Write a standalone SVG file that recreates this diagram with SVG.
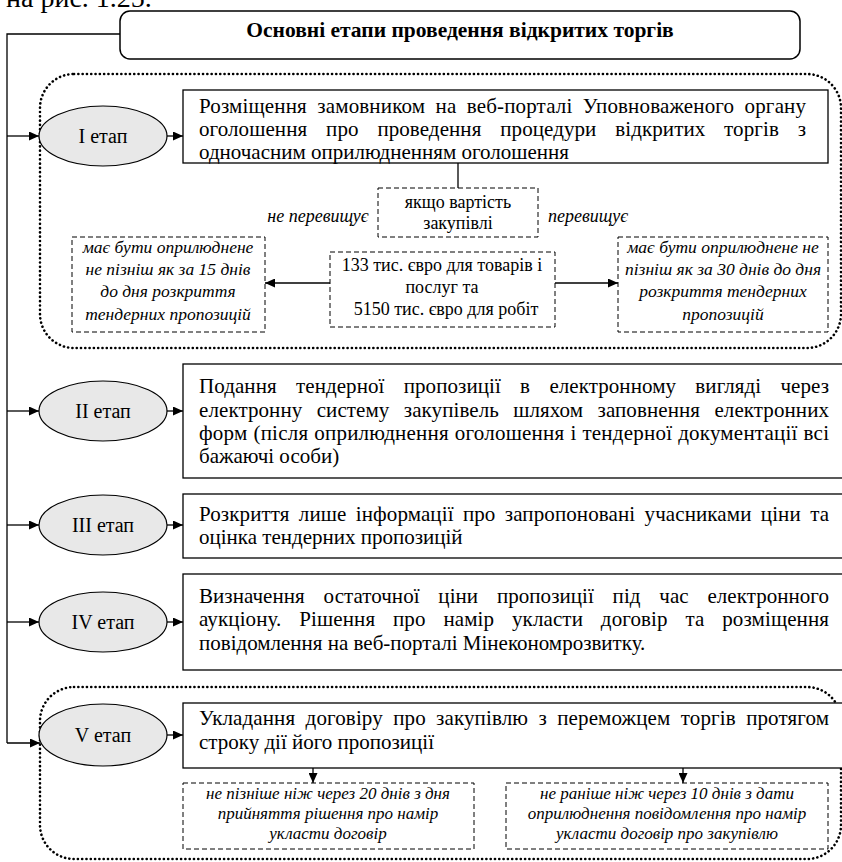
<svg xmlns="http://www.w3.org/2000/svg" width="842" height="862" viewBox="0 0 842 862">
<style>
text{font-family:"Liberation Serif","Times New Roman",serif;fill:#000}
.t{font-size:21px}
.tb{font-size:21.5px;font-weight:bold;text-anchor:middle}
.lab{font-size:20px;text-anchor:middle}
.s{font-size:18px;text-anchor:middle}
.i{font-size:17.5px;font-style:italic;text-anchor:middle}
.iv{font-size:17px;font-style:italic;text-anchor:middle}
.box{fill:#fff;stroke:#000;stroke-width:1.3}
.ell{fill:#e8e8e8;stroke:#000;stroke-width:1.2}
.dash{fill:#fff;stroke:#000;stroke-width:1;stroke-dasharray:5 3}
.dot{fill:none;stroke:#000;stroke-width:2.6;stroke-dasharray:0.1 4.2;stroke-linecap:round}
.ln{fill:none;stroke:#000;stroke-width:1.3}
.arr{fill:none;stroke:#000;stroke-width:1.3;marker-end:url(#ah)}
</style>
<defs>
<marker id="ah" markerUnits="userSpaceOnUse" markerWidth="11" markerHeight="9" refX="10" refY="4.5" orient="auto">
<path d="M0,0 L10,4.5 L0,9 z" fill="#000"/>
</marker>
</defs>

<text x="6" y="7" style="font-size:28px">на рис. 1.25.</text>

<g id="groups">
<rect class="dot" x="40" y="74" width="801" height="274" rx="34"/>
<rect class="dot" x="40" y="687" width="801" height="172" rx="34"/>
</g>

<g id="connectors">
<polyline class="ln" points="120,34 7,34 7,743"/>
<line class="arr" x1="7" y1="136" x2="39" y2="136"/>
<line class="arr" x1="7" y1="411" x2="39" y2="411"/>
<line class="arr" x1="7" y1="525" x2="39" y2="525"/>
<line class="arr" x1="7" y1="622" x2="39" y2="622"/>
<line class="arr" x1="7" y1="743" x2="40" y2="743"/>
<line class="arr" x1="167" y1="136" x2="183" y2="136"/>
<line class="arr" x1="167" y1="411" x2="183" y2="411"/>
<line class="arr" x1="167" y1="525" x2="183" y2="525"/>
<line class="arr" x1="167" y1="622" x2="183" y2="622"/>
<line class="arr" x1="167" y1="735" x2="183" y2="735"/>
<line class="ln" x1="458" y1="163" x2="458" y2="188"/>
<line class="arr" x1="330" y1="283" x2="265" y2="283"/>
<line class="arr" x1="555" y1="283" x2="618" y2="283"/>
<line class="arr" x1="313" y1="768" x2="313" y2="783"/>
<line class="arr" x1="683" y1="768" x2="683" y2="783"/>
</g>

<g id="title">
<rect x="120" y="11" width="680" height="48" rx="10" fill="#fff" stroke="#000" stroke-width="1.5"/>
<text class="tb" x="460" y="37">Основні етапи проведення відкритих торгів</text>
</g>

<g id="stage1">
<ellipse class="ell" cx="103" cy="136" rx="64" ry="30"/>
<text class="lab" x="103" y="143">I етап</text>
</g>
<g id="box1">
<rect class="box" x="183" y="90" width="645" height="73"/>
<text class="t" x="199" y="113" textLength="607" lengthAdjust="spacing" style="word-spacing:5px">Розміщення замовником на веб-порталі Уповноваженого органу</text>
<text class="t" x="199" y="136" textLength="607" lengthAdjust="spacing" style="word-spacing:13.5px">оголошення про проведення процедури відкритих торгів з</text>
<text class="t" x="199" y="159">одночасним оприлюдненням оголошення</text>
</g>
<g id="cond">
<rect class="dash" x="378" y="188" width="160" height="49"/>
<text class="s" x="458" y="208">якщо вартість</text>
<text class="s" x="458" y="229">закупівлі</text>
</g>
<g id="labels1">
<text class="i" x="318" y="222" style="font-size:18px">не перевищує</text>
<text class="i" x="588" y="222" style="font-size:18px">перевищує</text>
</g>
<g id="threshold">
<rect class="dash" x="330" y="252" width="225" height="75"/>
<text class="s" x="442" y="271">133 тис. євро для товарів і</text>
<text class="s" x="442" y="293">послуг та</text>
<text class="s" x="446" y="315">5150 тис. євро для робіт</text>
</g>
<g id="less">
<rect class="dash" x="72" y="237" width="193" height="95"/>
<text class="i" x="168" y="253">має бути оприлюднене</text>
<text class="i" x="168" y="275">не пізніш як за 15 днів</text>
<text class="i" x="168" y="297">до дня розкриття</text>
<text class="i" x="168" y="320">тендерних пропозицій</text>
</g>
<g id="more">
<rect class="dash" x="618" y="237" width="210" height="95"/>
<text class="i" x="723" y="253">має бути оприлюднене не</text>
<text class="i" x="723" y="275">пізніш як за 30 днів до дня</text>
<text class="i" x="723" y="297">розкриття тендерних</text>
<text class="i" x="723" y="320">пропозицій</text>
</g>

<g id="stage2">
<ellipse class="ell" cx="103" cy="411" rx="64" ry="30"/>
<text class="lab" x="103" y="418">II етап</text>
</g>
<g id="box2">
<rect class="box" x="183" y="364" width="670" height="114"/>
<text class="t" x="199" y="393" textLength="630" lengthAdjust="spacing" style="word-spacing:14px">Подання тендерної пропозиції в електронному вигляді через</text>
<text class="t" x="199" y="417" textLength="630" lengthAdjust="spacing" style="word-spacing:9px">електронну систему закупівель шляхом заповнення електронних</text>
<text class="t" x="199" y="440" textLength="630" lengthAdjust="spacing" style="word-spacing:0.5px">форм (після оприлюднення оголошення і тендерної документації всі</text>
<text class="t" x="199" y="463">бажаючі особи)</text>
</g>

<g id="stage3">
<ellipse class="ell" cx="103" cy="525" rx="64" ry="30"/>
<text class="lab" x="103" y="532">III етап</text>
</g>
<g id="box3">
<rect class="box" x="183" y="494" width="670" height="64"/>
<text class="t" x="199" y="521" textLength="630" lengthAdjust="spacing" style="word-spacing:4px">Розкриття лише інформації про запропоновані учасниками ціни та</text>
<text class="t" x="199" y="544">оцінка тендерних пропозицій</text>
</g>

<g id="stage4">
<ellipse class="ell" cx="103" cy="622" rx="64" ry="30"/>
<text class="lab" x="103" y="629">IV етап</text>
</g>
<g id="box4">
<rect class="box" x="183" y="574" width="670" height="96"/>
<text class="t" x="199" y="603" textLength="630" lengthAdjust="spacing" style="word-spacing:13.5px">Визначення остаточної ціни пропозиції під час електронного</text>
<text class="t" x="199" y="626" textLength="630" lengthAdjust="spacing" style="word-spacing:12.5px">аукціону. Рішення про намір укласти договір та розміщення</text>
<text class="t" x="199" y="650">повідомлення на веб-порталі Мінекономрозвитку.</text>
</g>

<g id="stage5">
<ellipse class="ell" cx="103" cy="735" rx="64" ry="31"/>
<text class="lab" x="103" y="742">V етап</text>
</g>
<g id="box5">
<rect class="box" x="183" y="703" width="670" height="65"/>
<text class="t" x="199" y="725" textLength="630" lengthAdjust="spacing" style="word-spacing:5px">Укладання договіру про закупівлю з переможцем торгів протягом</text>
<text class="t" x="199" y="749">строку дії його пропозиції</text>
</g>
<g id="term1">
<rect class="dash" x="183" y="783" width="291" height="66"/>
<text class="iv" x="328" y="799">не пізніше ніж через 20 днів з дня</text>
<text class="iv" x="328" y="819">прийняття рішення про намір</text>
<text class="iv" x="328" y="839">укласти договір</text>
</g>
<g id="term2">
<rect class="dash" x="506" y="783" width="322" height="66"/>
<text class="iv" x="667" y="799">не раніше ніж через 10 днів з дати</text>
<text class="iv" x="667" y="819">оприлюднення повідомлення про намір</text>
<text class="iv" x="667" y="839">укласти договір про закупівлю</text>
</g>
</svg>
